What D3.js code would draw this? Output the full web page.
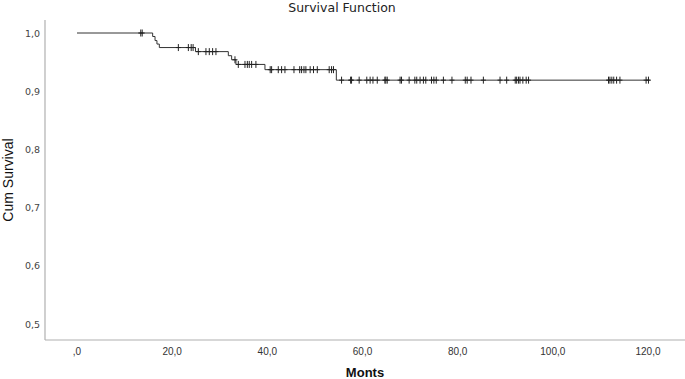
<!DOCTYPE html>
<html lang="en">
<head>
<meta charset="UTF-8" />
<title>Survival Function</title>
<script src="https://cdn.jsdelivr.net/npm/d3@7"></script>
<style>
  body { margin: 0; background: #fff; }
  svg { display: block; }
</style>
</head>
<body>
<div class="chart"></div>
<script>
// step times (months) and the cumulative survival after each step
var eventTimes = [0, 15.9, 16.4, 16.8, 17.3, 24.9, 31.8, 32.5, 33.4, 39.5, 54.5];
var survival   = [1.0, 0.994, 0.987, 0.981, 0.975, 0.968, 0.961, 0.954, 0.946, 0.937, 0.919];
var lastTime = 120.4;

// censored cases (months)
var censorTimes = [13.4, 13.7,
  21.3, 23.4, 24.0, 24.4,
  25.5, 27.1, 27.8, 28.5, 29.2,
  33.2, 33.9, 35.3, 35.8, 36.2, 36.7, 37.6,
  40.6, 40.9, 42.3, 43.0, 43.7, 45.6, 46.8, 47.2, 47.7, 48.1, 49.0, 49.7, 50.5, 53.0, 53.5, 53.9,
  55.6, 57.5, 57.7, 59.3, 60.9, 61.6, 62.2, 63.1, 64.7, 64.9, 65.2, 67.9, 68.2, 69.8,
  71.0, 71.4, 72.1, 72.8, 73.3, 74.5, 75.0, 75.5, 77.0, 78.8, 81.6, 82.0, 82.8, 85.4,
  88.9, 90.3, 92.1, 92.4, 92.8, 93.1, 93.7, 94.4, 94.9,
  111.7, 112.0, 112.4, 112.8, 113.4, 114.1, 119.6, 120.1];

var xTicks = [0, 20, 40, 60, 80, 100, 120];
var yTicks = [0.5, 0.6, 0.7, 0.8, 0.9, 1.0];

var w = 685, h = 379;
var axisLeft = 45, axisBottom = 340, axisTop = 20;

var svg = d3.select(".chart").append("svg")
  .attr("width", w)
  .attr("height", h);

var x = d3.scaleLinear().domain([0, 120]).range([77, 648]);
var y = d3.scaleLinear().domain([0.5, 1.0]).range([324, 33]);

function fmt(v) {
  return d3.format(".1f")(v).replace(".", ",");
}

// axis lines
svg.append("line")
  .attr("x1", axisLeft).attr("x2", axisLeft)
  .attr("y1", axisTop).attr("y2", axisBottom)
  .attr("stroke", "#b0b0b0").attr("stroke-width", 1.2);
svg.append("line")
  .attr("x1", axisLeft).attr("x2", w)
  .attr("y1", axisBottom).attr("y2", axisBottom)
  .attr("stroke", "#b0b0b0").attr("stroke-width", 1.2);

// tick labels
svg.selectAll(".xlab")
  .data(xTicks)
  .enter()
  .append("text")
  .attr("class", "xlab")
  .attr("x", function(d) { return x(d); })
  .attr("y", 355)
  .attr("text-anchor", "middle")
  .attr("font-family", "Liberation Sans, Arial, sans-serif")
  .attr("font-size", "10px")
  .attr("fill", "#333")
  .text(function(d) { return d === 0 ? ",0" : fmt(d); });

svg.selectAll(".ylab")
  .data(yTicks)
  .enter()
  .append("text")
  .attr("class", "ylab")
  .attr("x", 40)
  .attr("y", function(d) { return y(d) + 3.5; })
  .attr("text-anchor", "end")
  .attr("font-family", "DejaVu Sans, sans-serif")
  .attr("font-size", "9.5px")
  .attr("fill", "#444")
  .text(function(d) { return fmt(d); });

// titles
svg.append("text")
  .attr("x", 342).attr("y", 12)
  .attr("text-anchor", "middle")
  .attr("font-family", "DejaVu Sans, sans-serif")
  .attr("font-size", "12.5px")
  .attr("fill", "#222")
  .text("Survival Function");

svg.append("text")
  .attr("transform", "translate(13,180) rotate(-90)")
  .attr("text-anchor", "middle")
  .attr("font-family", "Liberation Sans, Arial, sans-serif")
  .attr("font-size", "14px")
  .attr("fill", "#111")
  .text("Cum Survival");

svg.append("text")
  .attr("x", 365).attr("y", 377)
  .attr("text-anchor", "middle")
  .attr("font-family", "Liberation Sans, Arial, sans-serif")
  .attr("font-size", "13px")
  .attr("font-weight", "bold")
  .attr("fill", "#111")
  .text("Monts");

// survival step curve
var pts = eventTimes.map(function(t, i) { return [t, survival[i]]; });
pts.push([lastTime, survival[survival.length - 1]]);

var line = d3.line()
  .x(function(d) { return x(d[0]); })
  .y(function(d) { return y(d[1]); })
  .curve(d3.curveStepAfter);

svg.append("path")
  .datum(pts)
  .attr("d", line)
  .attr("fill", "none")
  .attr("stroke", "#333")
  .attr("stroke-width", 1);

function survAt(t) {
  var s = survival[0];
  for (var i = 0; i < eventTimes.length; i++) {
    if (eventTimes[i] <= t) s = survival[i];
  }
  return s;
}

// censor marks
var cs = svg.selectAll(".censor")
  .data(censorTimes)
  .enter()
  .append("g")
  .attr("class", "censor")
  .attr("transform", function(d) {
    return "translate(" + x(d) + "," + y(survAt(d)) + ")";
  });
cs.append("line")
  .attr("x1", 0).attr("x2", 0).attr("y1", -3.5).attr("y2", 3.5)
  .attr("stroke", "#222").attr("stroke-width", 1);
cs.append("line")
  .attr("x1", -2.5).attr("x2", 2.5).attr("y1", 0).attr("y2", 0)
  .attr("stroke", "#222").attr("stroke-width", 1);
</script>
</body>
</html>
